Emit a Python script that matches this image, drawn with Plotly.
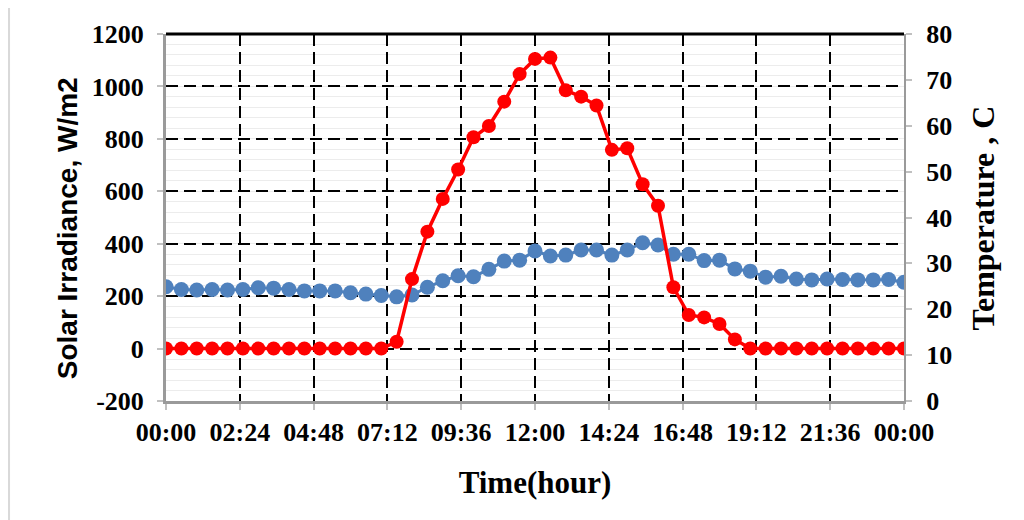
import plotly.graph_objects as go

hours = [0, 0.5, 1, 1.5, 2, 2.5, 3, 3.5, 4, 4.5, 5, 5.5, 6, 6.5, 7, 7.5, 8, 8.5, 9, 9.5,
         10, 10.5, 11, 11.5, 12, 12.5, 13, 13.5, 14, 14.5, 15, 15.5, 16, 16.5, 17, 17.5,
         18, 18.5, 19, 19.5, 20, 20.5, 21, 21.5, 22, 22.5, 23, 23.5, 24]

irradiance = [0, 0, 0, 0, 0, 0, 0, 0, 0, 0, 0, 0, 0, 0, 0,
              26, 265, 446, 571, 683, 806, 849, 942, 1047, 1105, 1110, 985, 961, 927,
              758, 764, 627, 545, 234, 128, 119, 94, 35,
              0, 0, 0, 0, 0, 0, 0, 0, 0, 0, 0]

temperature = [24.9, 24.3, 24.2, 24.3, 24.2, 24.3, 24.7, 24.6, 24.3, 24.0, 24.0, 24.0,
               23.6, 23.3, 23.0, 22.7, 23.1, 24.8, 26.2, 27.3, 27.1, 28.7, 30.5, 30.7,
               32.7, 31.6, 31.8, 32.9, 32.9, 31.8, 32.9, 34.5, 34.0, 32.0, 32.0, 30.6,
               30.7, 28.8, 28.3, 27.0, 27.2, 26.6, 26.4, 26.6, 26.5, 26.4, 26.4, 26.5, 25.9]

x_tick_vals = [0, 2.4, 4.8, 7.2, 9.6, 12, 14.4, 16.8, 19.2, 21.6, 24]
x_tick_text = ["00:00", "02:24", "04:48", "07:12", "09:36", "12:00", "14:24", "16:48",
               "19:12", "21:36", "00:00"]

irr_tick_vals = [-200, 0, 200, 400, 600, 800, 1000, 1200]
irr_tick_text = ["-200", "0", "200", "400", "600", "800", "1000", "1200"]

temp_tick_vals = [0, 10, 20, 30, 40, 50, 60, 70, 80]

serif = dict(family="Liberation Serif", size=26, color="black", weight="bold")

fig = go.Figure()
fig.add_trace(go.Scatter(
    x=hours, y=temperature, yaxis="y", mode="lines+markers",
    line=dict(color="#4F81BD", width=3),
    marker=dict(color="#4F81BD", size=15), name="Temperature", showlegend=False))
fig.add_trace(go.Scatter(
    x=hours, y=irradiance, yaxis="y2", mode="lines+markers",
    line=dict(color="#FF0000", width=3.5),
    marker=dict(color="#FF0000", size=14), name="Solar Irradiance", showlegend=False))

fig.update_layout(
    width=1024, height=520,
    margin=dict(l=158, r=128, t=26, b=127),
    paper_bgcolor="white", plot_bgcolor="white",
    xaxis=dict(
        range=[0, 24], tickvals=x_tick_vals, ticktext=x_tick_text,
        tickfont=serif, showgrid=True, gridcolor="black", gridwidth=2,
        griddash="12px,6px", showline=True, linecolor="#9a9a9a", linewidth=3,
        ticks="outside", ticklen=6, tickcolor="#c0c0c0", tickwidth=2,
        zeroline=False,
        title=dict(text="Time(hour)", font=dict(family="Liberation Serif", size=31,
                                                  color="black", weight="bold"),
                   standoff=26),
    ),
    yaxis=dict(
        side="right", range=[0, 80], tickvals=temp_tick_vals, tickfont=serif,
        showgrid=False, zeroline=False,
        showline=True, linecolor="#9a9a9a", linewidth=2,
        ticks="outside", ticklen=6, tickcolor="#c0c0c0", tickwidth=2,
        ticklabelstandoff=9,
    ),
    yaxis2=dict(
        overlaying="y", side="left", range=[-200, 1200],
        tickvals=irr_tick_vals, ticktext=irr_tick_text, tickfont=serif,
        showgrid=True, gridcolor="black", gridwidth=2, griddash="12px,6px",
        minor=dict(dtick=40, tick0=0, showgrid=True, gridcolor="#ececec", gridwidth=1,
                   griddash="solid"),
        zeroline=False,
        showline=True, linecolor="#9a9a9a", linewidth=3,
        ticks="outside", ticklen=6, tickcolor="#c0c0c0", tickwidth=2,
        ticklabelstandoff=8,
    ),
    annotations=[
        dict(text="Solar Irradiance, W/m2", xref="paper", yref="paper",
             x=-0.134, y=0.471, textangle=-90, showarrow=False,
             xanchor="center", yanchor="middle",
             font=dict(family="Liberation Sans", size=28, color="black", weight="bold")),
        dict(text="Temperature , C", xref="paper", yref="paper",
             x=1.107, y=0.5, textangle=-90, showarrow=False,
             xanchor="center", yanchor="middle",
             font=dict(family="Liberation Serif", size=32, color="black", weight="bold")),
    ],
    shapes=[
        dict(type="line", xref="paper", yref="paper", x0=0, x1=1, y0=1, y1=1,
             line=dict(color="black", width=3)),
        dict(type="rect", xref="paper", yref="paper", x0=-0.2127, x1=1.3, y0=-0.5, y1=1.0763,
             line=dict(color="#d9d9d9", width=2), layer="below"),
    ],
)

fig.write_html("out.html")
